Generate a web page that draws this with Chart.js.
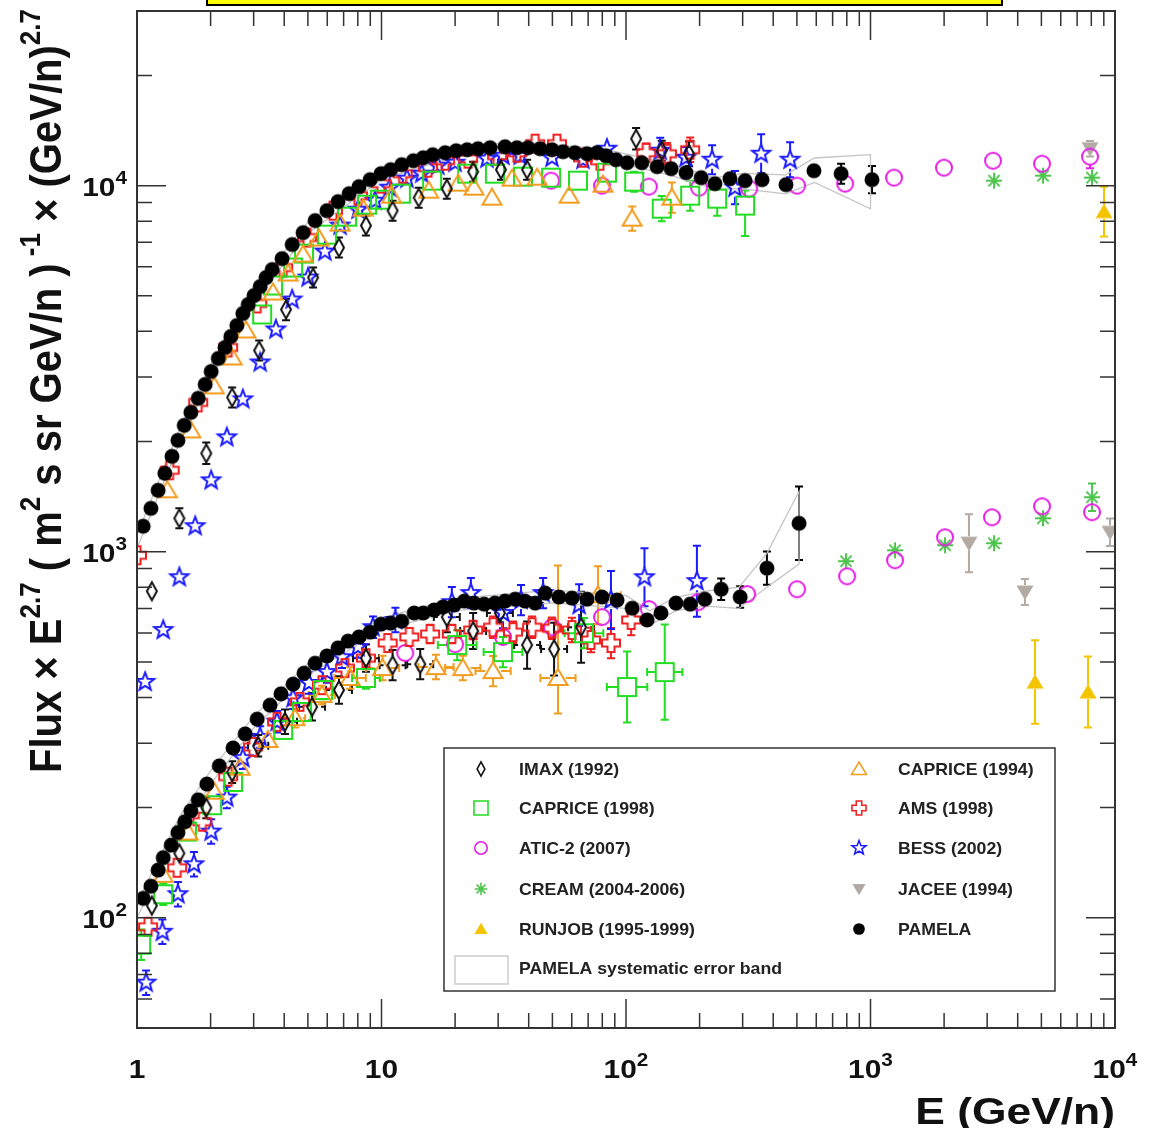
<!DOCTYPE html>
<html>
<head>
<meta charset="utf-8">
<script src="https://cdn.jsdelivr.net/npm/chart.js@4.4.1/dist/chart.umd.min.js"></script>
<style>
  html, body { margin: 0; padding: 0; background: #fff; }
  canvas { display: block; }
</style>
</head>
<body>
<canvas id="fluxChart" width="1151" height="1128" style="width:1151px;height:1128px"></canvas>
<script>
// axis ticks (value, base text, exponent text)
var xTickVals = [1, 10, 100, 1000, 10000];
var xTickText = [['1', ''], ['10', ''], ['10', '2'], ['10', '3'], ['10', '4']];
var yTickVals = [100, 1000, 10000];
var yTickText = [['10', '2'], ['10', '3'], ['10', '4']];

// PAMELA protons
var pamPE = [1.06,1.14,1.22,1.30,1.39,1.47,1.56,1.66,1.78,1.90,
  2.01,2.15,2.29,2.42,2.56,2.71,2.85,3.01,3.19,3.37,
  3.57,3.92,4.31,4.78,5.35,5.98,6.64,7.37,8.09,8.98,
  9.95,10.9,12.1,13.5,14.8,16.2,18.2,20.2,22.4,24.8,
  27.8,32.0,35.8,39.7,44.5,49.8,55.3,61.8,69.3,76.1,
  82.8,91.0,101,116,134,153,176,203,231,266,
  307,360,451,587,758,1014];
var pamPF = [1174,1314,1472,1638,1822,2015,2214,2402,2624,2865,
  3108,3374,3614,3873,4150,4475,4736,5010,5302,5611,
  5900,6321,6904,7442,8026,8546,9045,9510,9937,10384,
  10783,11057,11411,11700,11922,12149,12302,12458,12536,12615,
  12694,12774,12694,12694,12615,12536,12380,12302,12226,12302,
  12073,11774,11554,11554,11268,11128,10851,10516,10126,10450,
  10319,10384,10063,10987,10783,10384];
var pamPErr = [0,0,0,0,0,0,0,0,0,0, 0,0,0,0,0,0,0,0,0,0,
  0,0,0,0,0,0,0,0,0,0, 0,0,0,0,0,0,0,0,0,0,
  0,0,0,0,0,0,0,0,0,0, 0,0,0,0,0,0,0,0,0,0,
  0,0,0.03,0.04,0.065,0.09];
// PAMELA helium
var pamHeE = [1.06,1.14,1.22,1.28,1.38,1.47,1.57,1.66,1.78,1.93,
  2.17,2.47,2.77,3.10,3.50,3.88,4.35,4.82,5.35,5.98,
  6.64,7.30,8.09,8.98,9.95,10.9,12.1,13.6,14.8,16.4,
  17.8,19.8,21.8,23.9,26.3,29.1,32.0,35.2,38.6,42.5,
  46.7,53.2,60.1,69.3,79.8,91.9,106,122,139,160,
  183,210,245,293,377,510];
var pamHeF = [113,122,135,146,158,171,183,196,210,232,
  260,291,318,349,381,409,435,466,496,519,
  546,570,585,603,634,638,646,680,680,693,
  706,715,733,724,719,724,733,742,733,724,
  771,752,747,742,752,738,701,651,680,724,
  719,742,790,752,902,1196];
var pamHeErr = [0,0,0,0,0,0,0,0,0,0, 0,0,0,0,0,0,0,0,0,0,
  0,0,0,0,0,0,0,0,0,0, 0,0,0,0,0,0,0,0,0,0,
  0,0,0,0,0,0,0,0,0,0, 0.03,0.03,0.07,0.07,0.11,0.26];

// IMAX (1992)
var imaxPE = [1.15,1.49,1.92,2.45,3.16,4.07,5.25,6.70,8.64,11.1,14.2,18.5,23.7,30.8,39.4,110,140,181];
var imaxPF = [780,1234,1857,2640,3546,4588,5611,6773,7778,8546,9274,9813,10919,11057,11057,13437,12458,12226];
var imaxPErr = [0.04,0.065,0.07,0.065,0.065,0.07,0.065,0.065,0.065,0.065,0.065,0.065,0.065,0.065,0.065,0.07,0.065,0.08];
var imaxHeE = [1.15,1.49,1.92,2.45,3.13,4.03,5.20,6.70,8.64,11.1,14.4,18.5,23.7,30.5,39.4,50.8,65.5];
var imaxHeF = [108,150,200,250,295,343,377,419,512,490,493,663,607,680,556,542,622];
var imaxHeErr = [0.05,0.05,0.07,0.07,0.07,0.08,0.09,0.09,0.09,0.1,0.1,0.1,0.12,0.06,0.16,0.18,0.25];
var imaxHeXErr = [0,0,0,0.06,0.1,0.12,0.13,0.13,0.13,0.13,0.13,0.13,0.13,0.13,0.13,0.13,0.13];

// CAPRICE (1994)
var cap94PE = [1.33,1.66,2.07,2.45,2.79,3.60,4.15,4.78,5.55,6.77,8.40,11.0,15.6,20.6,23.9,28.3,34.2,43.3,58.5,80.5,106,154];
var cap94PF = [1472,2145,2829,3394,4022,5106,5754,6481,7167,7877,8654,9391,9691,10127,9875,9274,10450,10516,9391,10063,8127,9274];
var cap94PErr = [0,0,0,0,0,0,0,0,0,0,0,0,0.03,0.03,0.03,0.03,0.03,0.03,0.04,0.04,0.08,0.1];
var cap94HeE = [1.28,1.62,2.07,2.64,3.43,4.43,5.71,7.44,10.1,16.7,21.5,28.6,52.7,76.8];
var cap94HeF = [131,171,221,257,306,351,406,452,481,484,481,472,452,761];
var cap94HeErr = [0.05,0.05,0.05,0.05,0.05,0.06,0.06,0.07,0.08,0.08,0.08,0.1,[0.25,1.03],0.2];
var cap94HeXErr = [0,0,0,0,0.06,0.1,0.13,0.16,0.17,0.18,0.18,0.18,0.18,0.24];

// CAPRICE (1998)
var cap98PE = [3.25,3.60,4.35,4.82,5.98,7.23,8.73,9.86,12.0,16.1,22.4,29.1,37.9,49.4,63.6,83.6,108,140,183,236,307];
var cap98PF = [4447,5335,5975,6522,7348,8230,8875,9158,9510,10319,10783,10783,10582,10516,10319,10851,10254,8654,9391,9216,8820];
var cap98PErr = [0,0,0,0,0,0,0,0,0,0.03,0.03,0.03,0.03,0.035,0.04,0.045,0.065,0.082,0.099,0.113,[0.21,0.1]];
var cap98HeE = [1.04,1.28,1.60,2.03,2.47,3.96,4.73,5.77,8.64,20.4,31.4,67.3,101,144];
var cap98HeF = [84.4,116,172,203,235,326,365,419,452,556,532,599,427,469];
var cap98HeErr = [0.1,0.07,0.05,0.05,0.05,0.05,0.05,0.06,0.07,0.1,0.1,0.1,0.25,0.35];
var cap98HeXErr = [0,0,0,0,0,0.06,0.08,0.1,0.14,0.2,0.2,0.2,0.21,0.18];

// AMS (1998)
var amsPE = [1.00,1.36,1.78,2.36,3.10,3.96,4.96,6.33,8.01,9.95,12.2,15.5,18.2,22.6,29.7,35.8,42.5,52.2,66.7,78.3,121,147,183];
var amsPF = [978,1669,2558,3614,4766,5975,7212,8546,9391,10127,10783,11198,11700,11850,12073,12302,13022,13022,11922,11700,12302,12226,12536];
var amsPErr = [0.03,0,0,0,0,0,0,0,0,0,0,0.03,0.03,0.03,0.03,0.03,0.04,0.04,0.04,0.04,0.06,0.07,0.08];
var amsHeE = [1.11,1.46,1.85,2.36,2.98,3.74,4.64,5.71,7.09,8.64,10.6,13.0,15.8,19.4,23.7,28.6,34.5,41.3,49.8,60.1,71.9,86.8,105];
var amsHeF = [94.5,137,183,243,293,343,389,432,481,512,563,585,596,596,611,622,603,622,618,611,574,563,651];
var amsHeErr = [0.05,0.05,0.05,0.05,0.05,0.05,0.05,0.05,0.05,0.05,0.05,0.05,0.06,0.06,0.06,0.07,0.07,0.07,0.07,0.08,0.08,0.1,0.1];

// BESS (2002)
var bessPE = [1.08,1.28,1.49,1.73,2.01,2.33,2.71,3.19,3.70,4.31,5.01,5.87,6.77,8.01,9.41,10.8,12.7,14.6,17.0,20.0,27.0,31.4,36.9,49.8,66.7,83.6,138,176,225,279,357,469];
var bessPF = [441,611,852,1174,1567,2053,2608,3289,4047,4886,5611,6605,7778,8600,9101,9875,10450,10783,11339,11554,11850,12073,12073,11922,11774,12615,12458,11922,11774,9875,12226,11774];
var bessPErr = [0.03,0.03,0.03,0.03,0.03,0.03,0.03,0.03,0.03,0.03,0.03,0.03,0.03,0.03,0.03,0.03,0.03,0.03,0.03,0.03,0.03,0.03,0.03,0.03,0.04,0.05,0.085,0.07,0.095,0.11,0.13,0.116];
var bessHeE = [1.09,1.27,1.47,1.71,2.01,2.33,2.71,3.19,3.74,4.35,5.05,5.98,6.89,8.01,9.23,11.4,19.4,23.2,31.4,37.2,45.8,64.3,86.8,119,195];
var bessHeF = [66.5,91.6,116,140,172,213,273,312,343,398,438,469,515,549,622,651,728,771,680,738,771,715,738,852,831];
var bessHeErr = [0.08,0.08,0.08,0.08,0.08,0.07,0.07,0.07,0.07,0.07,0.07,0.07,0.07,0.07,0.07,0.08,0.1,0.1,0.1,0.1,0.1,0.14,0.2,0.2,0.25];

// ATIC-2 (2007)
var aticPE = [49.4,79.8,124,199,319,501,787,1248,1998,3170,5029,7903];
var aticPF = [10319,10000,9937,9875,9813,10000,10127,10516,11198,11700,11482,11999];
var aticPErr = [0,0,0,0,0,0,0,0,0,0.045,0.05,0.075];
var aticHeE = [12.5,20.0,31.4,49.8,79.8,124,197,313,501,802,1260,2017,3140,5029,8053];
var aticHeF = [529,559,585,622,663,697,728,766,790,857,948,1095,1242,1331,1282];
var aticHeErr = [0,0,0,0,0,0,0,0,0,0,0,0,0,0,0.05];

// CREAM (2004-2006)
var creamPE = [3200,5077,8053];
var creamPF = [10319,10649,10516];
var creamPErr = [0.02,0.03,0.03];
var creamHeE = [794,1260,2017,3200,5077,8053];
var creamHeF = [942,1009,1042,1055,1234,1409];
var creamHeErr = [0,0,0,0,0.05,0.09];

// JACEE (1994)
var jaceePE = [7903];
var jaceePF = [12615];
var jaceePErr = [0.05];
var jaceeHeE = [2528,4283,9541];
var jaceeHeF = [1055,776,1130];
var jaceeHeErr = [0.2,0.085,0.09];

// RUNJOB (1995-1999)
var runjobPE = [9017];
var runjobPF = [8492];
var runjobPErr = [0.17];
var runjobHeE = [4708,7756];
var runjobHeF = [440.5,413.6];
var runjobHeErr = [0.3,0.25];

// PAMELA systematic error bands
var pBandE = [1, 1.5, 2, 3, 5, 10, 20, 40, 80, 150, 230, 300, 450, 590, 1000];
var pBandLo = [1020, 2000, 2990, 4800, 7400, 10400, 12000, 12300, 11800, 10700, 9800, 9800, 9500, 10200, 8650];
var pBandHi = [1110, 2180, 3230, 5200, 7950, 11200, 12900, 13100, 12600, 11500, 10500, 10800, 10700, 11900, 12150];
var heBandE = [1, 1.5, 2, 3, 5, 10, 20, 50, 100, 125, 160, 210, 290, 377, 510];
var heBandLo = [100, 172, 232, 330, 460, 610, 690, 725, 700, 630, 690, 710, 700, 800, 925];
var heBandHi = [110, 190, 252, 355, 495, 660, 745, 785, 760, 690, 750, 780, 800, 990, 1460];

var FONT = '"Liberation Sans", Arial, Helvetica, sans-serif';

// marker shapes, drawn by hand so the legend matches the plot
function drawMarker(c, kind, color, x, y, s) {
    c.save();
    c.translate(x, y);
    c.scale(s, s);
    c.strokeStyle = color;
    c.fillStyle = color;
    c.lineWidth = 2;
    c.lineJoin = 'miter';
    c.beginPath();
    var k, r, ang;
    switch (kind) {
        case 'diamond':
            c.moveTo(0, -9); c.lineTo(5, 0); c.lineTo(0, 9); c.lineTo(-5, 0); c.closePath(); c.stroke();
            break;
        case 'triUp':
            c.moveTo(0, -9); c.lineTo(9.5, 7); c.lineTo(-9.5, 7); c.closePath(); c.stroke();
            break;
        case 'square':
            c.rect(-9, -9, 18, 18); c.stroke();
            break;
        case 'circle':
            c.arc(0, 0, 8, 0, 2 * Math.PI); c.stroke();
            break;
        case 'asterisk':
            for (k = 0; k < 4; k++) {
                ang = k * Math.PI / 4;
                c.moveTo(-8 * Math.cos(ang), -8 * Math.sin(ang));
                c.lineTo(8 * Math.cos(ang), 8 * Math.sin(ang));
            }
            c.stroke();
            break;
        case 'triFill':
            c.moveTo(0, -8); c.lineTo(8.5, 6.5); c.lineTo(-8.5, 6.5); c.closePath(); c.fill();
            break;
        case 'triDown':
            c.moveTo(0, 8); c.lineTo(8.5, -6.5); c.lineTo(-8.5, -6.5); c.closePath(); c.fill();
            break;
        case 'cross':
            var a = 3.5, b = 9;
            c.moveTo(-a, -b); c.lineTo(a, -b); c.lineTo(a, -a); c.lineTo(b, -a); c.lineTo(b, a);
            c.lineTo(a, a); c.lineTo(a, b); c.lineTo(-a, b); c.lineTo(-a, a); c.lineTo(-b, a);
            c.lineTo(-b, -a); c.lineTo(-a, -a); c.closePath(); c.stroke();
            break;
        case 'star':
            for (k = 0; k < 10; k++) {
                r = k % 2 ? 4 : 9.5;
                ang = -Math.PI / 2 + k * Math.PI / 5;
                if (k === 0) c.moveTo(r * Math.cos(ang), r * Math.sin(ang));
                else c.lineTo(r * Math.cos(ang), r * Math.sin(ang));
            }
            c.closePath(); c.stroke();
            break;
        case 'dot':
            c.arc(0, 0, 7.5, 0, 2 * Math.PI); c.fill();
            break;
    }
    c.restore();
}

function markerCanvas(kind, color) {
    var cv = document.createElement('canvas');
    cv.width = 26;
    cv.height = 26;
    drawMarker(cv.getContext('2d'), kind, color, 13, 13, 1);
    return cv;
}

function pts(E, F) {
    return E.map(function (e, i) { return { x: e, y: F[i] }; });
}
function zeros(arr) {
    return arr.map(function () { return 0; });
}

// one entry per experiment: protons + helium in the same dataset
var experiments = [
    { label: 'PAMELA', kind: 'dot', color: '#000000', gap: 7,
      data: pts(pamPE, pamPF).concat(pts(pamHeE, pamHeF)), yErr: pamPErr.concat(pamHeErr) },
    { label: 'IMAX (1992)', kind: 'diamond', color: '#111111', gap: 9,
      data: pts(imaxPE, imaxPF).concat(pts(imaxHeE, imaxHeF)), yErr: imaxPErr.concat(imaxHeErr),
      xErr: zeros(imaxPE).concat(imaxHeXErr) },
    { label: 'CAPRICE (1994)', kind: 'triUp', color: '#f39c1f', gap: 8,
      data: pts(cap94PE, cap94PF).concat(pts(cap94HeE, cap94HeF)), yErr: cap94PErr.concat(cap94HeErr),
      xErr: zeros(cap94PE).concat(cap94HeXErr) },
    { label: 'CAPRICE (1998)', kind: 'square', color: '#22dd22', gap: 9,
      data: pts(cap98PE, cap98PF).concat(pts(cap98HeE, cap98HeF)), yErr: cap98PErr.concat(cap98HeErr),
      xErr: zeros(cap98PE).concat(cap98HeXErr) },
    { label: 'AMS (1998)', kind: 'cross', color: '#ee2020', gap: 9,
      data: pts(amsPE, amsPF).concat(pts(amsHeE, amsHeF)), yErr: amsPErr.concat(amsHeErr) },
    { label: 'ATIC-2 (2007)', kind: 'circle', color: '#e61ee6', gap: 8,
      data: pts(aticPE, aticPF).concat(pts(aticHeE, aticHeF)), yErr: aticPErr.concat(aticHeErr) },
    { label: 'BESS (2002)', kind: 'star', color: '#1a1aff', gap: 9,
      data: pts(bessPE, bessPF).concat(pts(bessHeE, bessHeF)), yErr: bessPErr.concat(bessHeErr) },
    { label: 'CREAM (2004-2006)', kind: 'asterisk', color: '#4ec44e', gap: 8,
      data: pts(creamPE, creamPF).concat(pts(creamHeE, creamHeF)), yErr: creamPErr.concat(creamHeErr) },
    { label: 'JACEE (1994)', kind: 'triDown', color: '#b3aba3', gap: 7,
      data: pts(jaceePE, jaceePF).concat(pts(jaceeHeE, jaceeHeF)), yErr: jaceePErr.concat(jaceeHeErr) },
    { label: 'RUNJOB (1995-1999)', kind: 'triFill', color: '#f5c400', gap: 7,
      data: pts(runjobPE, runjobPF).concat(pts(runjobHeE, runjobHeF)), yErr: runjobPErr.concat(runjobHeErr) }
];

var datasets = experiments.map(function (ex) {
    return {
        label: ex.label,
        data: ex.data,
        yErr: ex.yErr,
        xErr: ex.xErr,
        barColor: ex.color,
        gap: ex.gap,
        pointStyle: markerCanvas(ex.kind, ex.color),
        pointRadius: 9,
        pointHoverRadius: 9,
        showLine: false
    };
});

// closed outline of a systematic band
function bandOutline(E, lo, hi) {
    var out = pts(E, lo);
    for (var i = E.length - 1; i >= 0; i--) out.push({ x: E[i], y: hi[i] });
    out.push({ x: E[0], y: lo[0] });
    return out;
}
[[pBandE, pBandLo, pBandHi], [heBandE, heBandLo, heBandHi]].forEach(function (b) {
    datasets.push({
        label: 'PAMELA systematic error band',
        data: bandOutline(b[0], b[1], b[2]),
        showLine: true,
        borderColor: '#c4c4c4',
        borderWidth: 1.3,
        backgroundColor: 'rgba(220,220,220,0.15)',
        fill: false,
        pointRadius: 0,
        tension: 0
    });
});

// error bars with serifs, gap around the marker like ROOT
var errorBars = {
    id: 'errorBars',
    beforeDatasetsDraw: function (chart) {
        var c = chart.ctx, xs = chart.scales.x, ys = chart.scales.y;
        c.save();
        c.lineWidth = 2;
        chart.data.datasets.forEach(function (ds) {
            if (!ds.yErr && !ds.xErr) return;
            c.strokeStyle = ds.barColor;
            ds.data.forEach(function (p, i) {
                var px = xs.getPixelForValue(p.x), py = ys.getPixelForValue(p.y);
                var g = ds.gap;
                var e = ds.yErr ? ds.yErr[i] : 0;
                if (e) {
                    var dn = Array.isArray(e) ? e[0] : e, up = Array.isArray(e) ? e[1] : e;
                    var top = ys.getPixelForValue(p.y * (1 + up));
                    var bot = ys.getPixelForValue(p.y / (1 + dn));
                    c.beginPath();
                    if (py - top > g) {
                        c.moveTo(px, top); c.lineTo(px, py - g);
                        c.moveTo(px - 4, top); c.lineTo(px + 4, top);
                    }
                    if (bot - py > g) {
                        c.moveTo(px, py + g); c.lineTo(px, bot);
                        c.moveTo(px - 4, bot); c.lineTo(px + 4, bot);
                    }
                    c.stroke();
                }
                var ex = ds.xErr ? ds.xErr[i] : 0;
                if (ex) {
                    var l = xs.getPixelForValue(p.x / (1 + ex));
                    var r = xs.getPixelForValue(p.x * (1 + ex));
                    c.beginPath();
                    if (px - l > g) {
                        c.moveTo(l, py); c.lineTo(px - g, py);
                        c.moveTo(l, py - 4); c.lineTo(l, py + 4);
                    }
                    if (r - px > g) {
                        c.moveTo(px + g, py); c.lineTo(r, py);
                        c.moveTo(r, py - 4); c.lineTo(r, py + 4);
                    }
                    c.stroke();
                }
            });
        });
        c.restore();
    }
};

// text helpers (figure is slightly stretched horizontally)
function drawText(c, s, x, y, size, sx) {
    c.save();
    c.translate(x, y);
    c.scale(sx, 1);
    c.font = 'bold ' + size + 'px ' + FONT;
    c.fillText(s, 0, 0);
    var w = c.measureText(s).width * sx;
    c.restore();
    return w;
}
function textWidth(c, s, size, sx) {
    c.save();
    c.font = 'bold ' + size + 'px ' + FONT;
    var w = c.measureText(s).width * sx;
    c.restore();
    return w;
}
function drawPow(c, base, sup, x, y, align) {
    var wb = textWidth(c, base, 26, 1.15), ws = sup ? textWidth(c, sup, 18, 1.15) : 0;
    var x0 = align === 'center' ? x - (wb + ws) / 2 : x - wb - ws;
    drawText(c, base, x0, y, 26, 1.15);
    if (sup) drawText(c, sup, x0 + wb, y - 12, 18, 1.15);
}

// ROOT-like frame, inward ticks, labels, titles and legend
var rootFrame = {
    id: 'rootFrame',
    afterDraw: function (chart) {
        var c = chart.ctx, a = chart.chartArea, xs = chart.scales.x, ys = chart.scales.y;
        var d, m, v, p, len;
        c.save();
        c.textBaseline = 'alphabetic';
        c.fillStyle = '#111';

        // yellow title box, cut off by the top edge
        c.fillStyle = '#ffff00';
        c.fillRect(207, -20, 795, 25);
        c.strokeStyle = '#000';
        c.lineWidth = 2;
        c.strokeRect(207, -20, 795, 25);

        // frame
        c.strokeStyle = '#333';
        c.lineWidth = 2;
        c.strokeRect(a.left, a.top, a.right - a.left, a.bottom - a.top);

        // ticks
        c.lineWidth = 1.5;
        c.beginPath();
        for (d = 0; d < 4; d++) {
            for (m = 1; m < 10; m++) {
                v = m * Math.pow(10, d);
                p = xs.getPixelForValue(v);
                len = m === 1 ? 29 : 15;
                c.moveTo(p, a.bottom); c.lineTo(p, a.bottom - len);
                c.moveTo(p, a.top); c.lineTo(p, a.top + len);
            }
        }
        for (d = 1; d < 5; d++) {
            for (m = 1; m < 10; m++) {
                v = m * Math.pow(10, d);
                if (v < ys.min || v > ys.max) continue;
                p = ys.getPixelForValue(v);
                len = m === 1 ? 29 : 15;
                c.moveTo(a.left, p); c.lineTo(a.left + len, p);
                c.moveTo(a.right, p); c.lineTo(a.right - len, p);
            }
        }
        c.stroke();

        // tick labels
        c.fillStyle = '#111';
        xTickVals.forEach(function (val, i) {
            drawPow(c, xTickText[i][0], xTickText[i][1], xs.getPixelForValue(val), a.bottom + 50, 'center');
        });
        yTickVals.forEach(function (val, i) {
            drawPow(c, yTickText[i][0], yTickText[i][1], a.left - 10, ys.getPixelForValue(val) + 10, 'right');
        });

        // x title
        var xt = 'E (GeV/n)';
        drawText(c, xt, a.right - textWidth(c, xt, 37, 1.2), 1124, 37, 1.2);

        // y title, rotated, built from pieces with superscripts
        var segs = [['Flux \u00d7 E', 0], ['2.7', 1], [' ( m', 0], ['2', 1], [' s sr GeV/n )', 0],
                    [' -1', 1], [' \u00d7 (GeV/n)', 0], ['2.7', 1]];
        c.save();
        c.translate(61, 773);
        c.rotate(-Math.PI / 2);
        c.scale(1, 1.1);
        var pos = 0;
        segs.forEach(function (s) {
            c.font = 'bold ' + (s[1] ? 26 : 40) + 'px ' + FONT;
            c.fillText(s[0], pos, s[1] ? -19 : 0);
            pos += c.measureText(s[0]).width;
        });
        c.restore();

        // legend box
        var lx = 444, ly = 748, lw = 611, lh = 243;
        c.fillStyle = '#fff';
        c.fillRect(lx, ly, lw, lh);
        c.strokeStyle = '#333';
        c.lineWidth = 1.5;
        c.strokeRect(lx, ly, lw, lh);
        var rows = [769, 808, 848, 889, 929, 968];
        var left = ['IMAX (1992)', 'CAPRICE (1998)', 'ATIC-2 (2007)', 'CREAM (2004-2006)', 'RUNJOB (1995-1999)'];
        var right = ['CAPRICE (1994)', 'AMS (1998)', 'BESS (2002)', 'JACEE (1994)', 'PAMELA'];
        function legendRow(name, mx, tx, y) {
            var ex = experiments.filter(function (e) { return e.label === name; })[0];
            drawMarker(c, ex.kind, ex.color, mx, y, 0.78);
            c.fillStyle = '#222';
            drawText(c, name, tx, y + 6, 17, 1.04);
        }
        left.forEach(function (n, i) { legendRow(n, 481, 519, rows[i]); });
        right.forEach(function (n, i) { legendRow(n, 859, 898, rows[i]); });
        c.strokeStyle = '#cccccc';
        c.lineWidth = 1.5;
        c.strokeRect(455, 956, 53, 28);
        c.fillStyle = '#222';
        drawText(c, 'PAMELA systematic error band', 519, rows[5] + 6, 17, 1.04);

        c.restore();
    }
};

var ctx = document.getElementById('fluxChart').getContext('2d');
var fluxChart = new Chart(ctx, {
    type: 'scatter',
    data: { datasets: datasets },
    options: {
        responsive: false,
        animation: false,
        devicePixelRatio: 1,
        layout: { padding: { left: 137, right: 36, top: 11, bottom: 100 } },
        scales: {
            x: { type: 'logarithmic', min: 1, max: 10000, display: false },
            y: { type: 'logarithmic', min: 50, max: 30000, display: false }
        },
        plugins: {
            legend: { display: false },
            tooltip: { enabled: false }
        }
    },
    plugins: [errorBars, rootFrame]
});
</script>
</body>
</html>
